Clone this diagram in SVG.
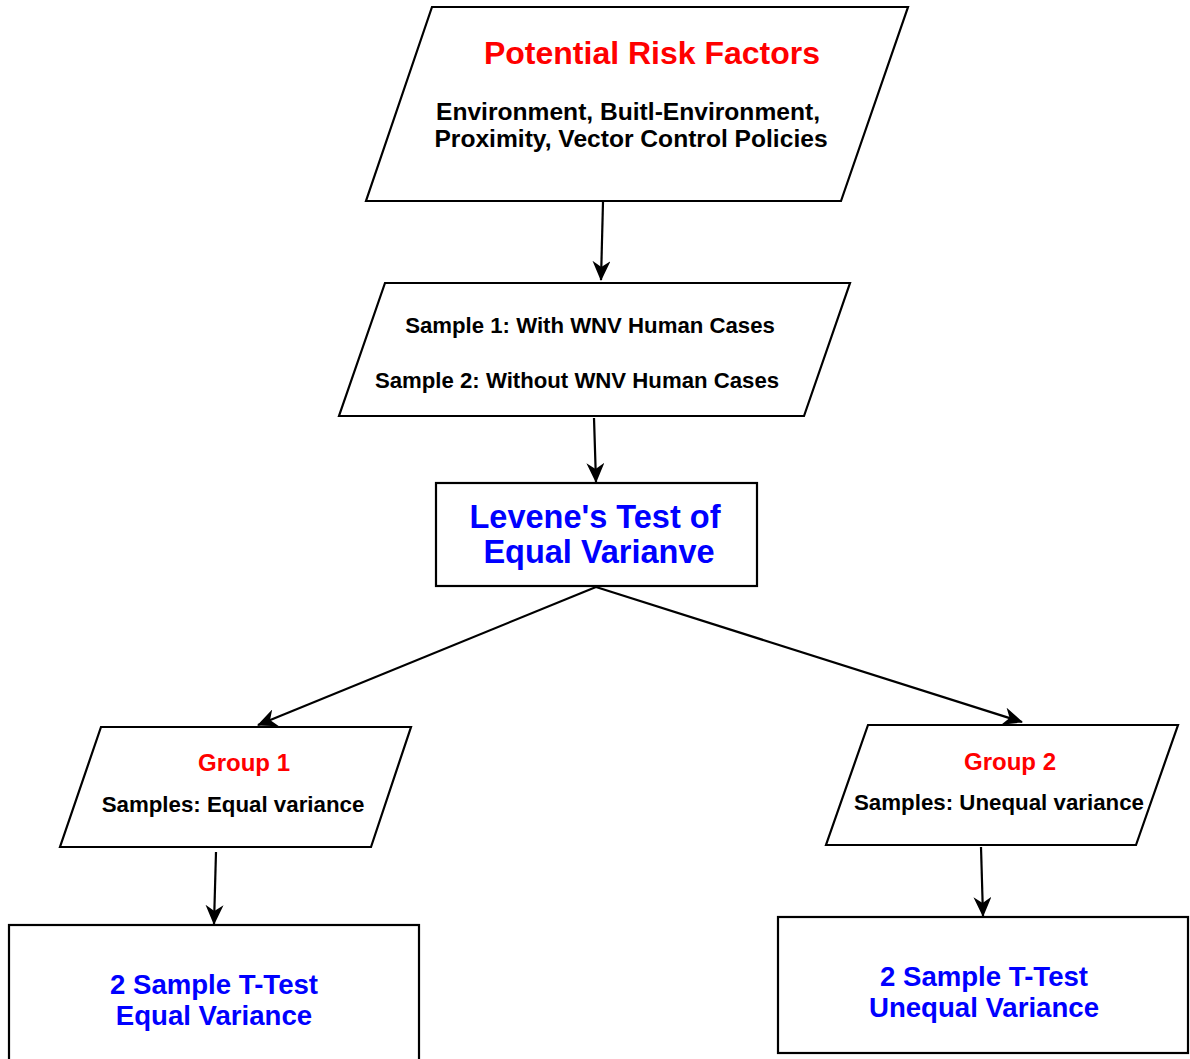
<svg xmlns="http://www.w3.org/2000/svg" width="1190" height="1059" viewBox="0 0 1190 1059">
<defs>
<style>
.shape{fill:#ffffff;stroke:#000000;stroke-width:2.2}
.edge{fill:none;stroke:#000000;stroke-width:2.2}
text{font-family:"Liberation Sans",Arial,sans-serif;font-weight:bold;text-anchor:middle}
.red{fill:#ff0000}
.blue{fill:#0000ff}
.blk{fill:#000000}
</style>
<marker id="arr" viewBox="0 0 20 18" refX="19" refY="9" markerWidth="20" markerHeight="18" markerUnits="userSpaceOnUse" orient="auto">
<path d="M0,0 L20,9 L0,18 L6,9 Z" fill="#000000"/>
</marker>
</defs>
<rect x="0" y="0" width="1190" height="1059" fill="#ffffff"/>
<g id="connectors">
<line class="edge" x1="603" y1="202" x2="601" y2="280" marker-end="url(#arr)"/>
<line class="edge" x1="594" y1="418" x2="596" y2="482" marker-end="url(#arr)"/>
<line class="edge" x1="596" y1="587" x2="258" y2="725" marker-end="url(#arr)"/>
<line class="edge" x1="596" y1="587" x2="1022" y2="722" marker-end="url(#arr)"/>
<line class="edge" x1="216" y1="852" x2="214" y2="924" marker-end="url(#arr)"/>
<line class="edge" x1="981" y1="847" x2="983" y2="916" marker-end="url(#arr)"/>
</g>
<g id="risk-factors">
<polygon class="shape" points="432,7 908,7 841,201 366,201"/>
<text class="red" x="652" y="64" font-size="32">Potential Risk Factors</text>
<text class="blk" x="628" y="120" font-size="24.6">Environment, Buitl-Environment,</text>
<text class="blk" x="631" y="147" font-size="24.6">Proximity, Vector Control Policies</text>
</g>
<g id="samples">
<polygon class="shape" points="385,283 850,283 804,416 339,416"/>
<text class="blk" x="590" y="333" font-size="22.2">Sample 1: With WNV Human Cases</text>
<text class="blk" x="577" y="388" font-size="22.2">Sample 2: Without WNV Human Cases</text>
</g>
<g id="levene">
<rect class="shape" x="436" y="483" width="321" height="103"/>
<text class="blue" x="595" y="528" font-size="32.5">Levene's Test of</text>
<text class="blue" x="599" y="563" font-size="32.5">Equal Varianve</text>
</g>
<g id="group1">
<polygon class="shape" points="101,727 411,727 371,847 60,847"/>
<text class="red" x="244" y="771" font-size="24">Group 1</text>
<text class="blk" x="233" y="812" font-size="22.3">Samples: Equal variance</text>
</g>
<g id="group2">
<polygon class="shape" points="868,725 1178,725 1136,845 826,845"/>
<text class="red" x="1010" y="770" font-size="24">Group 2</text>
<text class="blk" x="999" y="810" font-size="22.3">Samples: Unequal variance</text>
</g>
<g id="ttest-equal">
<rect class="shape" x="9" y="925" width="410" height="140"/>
<text class="blue" x="214" y="994" font-size="27.6">2 Sample T-Test</text>
<text class="blue" x="214" y="1025" font-size="27.6">Equal Variance</text>
</g>
<g id="ttest-unequal">
<rect class="shape" x="778" y="917" width="410" height="136"/>
<text class="blue" x="984" y="986" font-size="27.6">2 Sample T-Test</text>
<text class="blue" x="984" y="1017" font-size="27.6">Unequal Variance</text>
</g>
</svg>
